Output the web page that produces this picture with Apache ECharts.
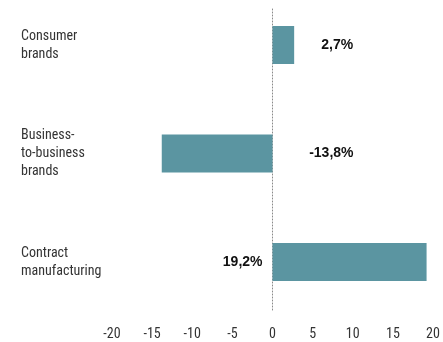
<!DOCTYPE html>
<html>
<head>
<meta charset="utf-8">
<script src="https://cdn.jsdelivr.net/npm/echarts@6/dist/echarts.min.js"></script>
<style>
  html, body { margin: 0; padding: 0; background: #fff; }
  #chart { width: 443px; height: 342px; }
</style>
</head>
<body>
<div id="chart"></div>
<script>
// Segment growth, percent
const categories = ['Consumer\nbrands', 'Business-\nto-business\nbrands', 'Contract\nmanufacturing'];
const growth = [2.7, -13.8, 19.2];
const valueLabels = ['2,7%', '-13,8%', '19,2%'];
const xTicks = { min: -20, max: 20, step: 5 };

// Where each value label sits relative to its bar
const labelPlacement = [
  { position: 'right', align: 'right', distance: 59 },
  { position: 'right', align: 'right', distance: 81 },
  { position: 'left', align: 'right', distance: 10 }
];

const narrow = "'Liberation Sans Narrow', 'Arial Narrow', 'Roboto Condensed', Roboto, sans-serif";
const barColor = '#5b95a1';

const chart = echarts.init(document.getElementById('chart'), null, { renderer: 'canvas' });

const barData = growth.map((v, i) => ({
  value: v,
  label: Object.assign({ formatter: valueLabels[i] }, labelPlacement[i])
}));

chart.setOption({
  animation: false,
  backgroundColor: '#fff',
  grid: [
    // bar rows: first and last category sit on the grid edges
    { left: 112, right: 10, top: 45, bottom: 80 },
    // full-height strip for the zero reference line
    { left: 112, right: 10, top: 9, bottom: 32 }
  ],
  xAxis: [
    {
      gridIndex: 0,
      type: 'value',
      min: xTicks.min,
      max: xTicks.max,
      interval: xTicks.step,
      axisLine: { show: false },
      axisTick: { show: false },
      splitLine: { show: false },
      axisLabel: {
        color: '#333',
        fontFamily: narrow,
        fontSize: 14,
        margin: 65
      }
    },
    {
      gridIndex: 1,
      type: 'value',
      min: xTicks.min,
      max: xTicks.max,
      show: false
    }
  ],
  yAxis: [
    {
      gridIndex: 0,
      type: 'category',
      inverse: true,
      boundaryGap: false,
      data: categories,
      axisLine: { show: false },
      axisTick: { show: false },
      splitLine: { show: false },
      axisLabel: {
        color: '#333',
        fontFamily: narrow,
        fontSize: 14,
        lineHeight: 18,
        align: 'left',
        margin: 91
      }
    },
    {
      gridIndex: 1,
      type: 'value',
      min: 0,
      max: 1,
      axisLine: {
        show: true,
        onZero: true,
        lineStyle: { color: '#8a8a8a', width: 1, type: [1, 2] }
      },
      axisTick: { show: false },
      axisLabel: { show: false },
      splitLine: { show: false }
    }
  ],
  series: [
    {
      type: 'bar',
      xAxisIndex: 0,
      yAxisIndex: 0,
      data: barData,
      barWidth: 38,
      itemStyle: { color: barColor },
      z: 3,
      label: {
        show: true,
        color: '#111',
        fontFamily: "'Liberation Sans', Arial, sans-serif",
        fontWeight: 'bold',
        fontSize: 14,
        verticalAlign: 'middle'
      }
    }
  ]
});
</script>
</body>
</html>
